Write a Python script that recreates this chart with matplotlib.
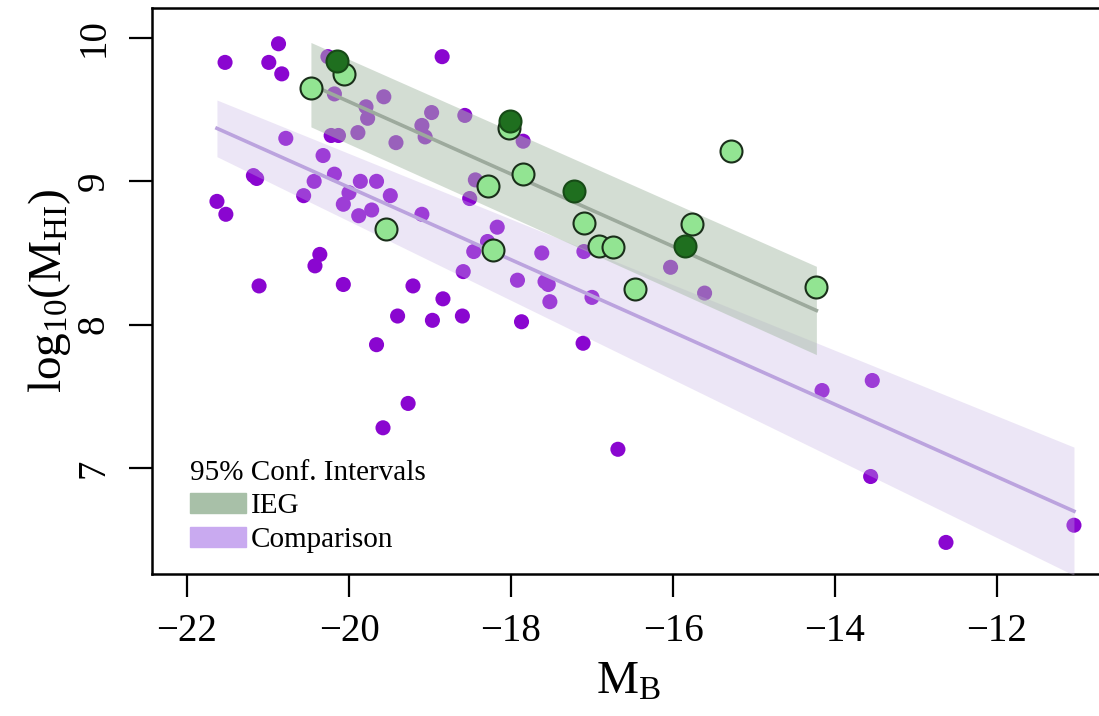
import numpy as np
import matplotlib

matplotlib.use("Agg")
import matplotlib.pyplot as plt
from matplotlib.patches import Patch

plt.rcParams["font.family"] = ["Liberation Serif", "DejaVu Serif"]
plt.rcParams["mathtext.fontset"] = "custom"
plt.rcParams["mathtext.rm"] = "Liberation Serif"
plt.rcParams["mathtext.it"] = "Liberation Serif:italic"

# comparison sample (M_B, log10 M_HI)
comp_mb = [
    -21.53, -20.87, -20.99, -20.83, -20.26, -18.85, -20.18, -19.57, -19.79, -19.77,
    -18.98, -18.57, -19.10, -19.06, -20.78, -20.22, -20.13, -19.89, -19.42, -20.32,
    -21.18, -21.14, -20.43, -20.18, -19.86, -19.66, -20.56, -20.00, -20.07, -19.49,
    -19.88, -19.72, -19.10, -21.63, -21.52, -18.44, -18.51, -18.17, -18.46, -18.29,
    -18.59, -20.36, -20.42, -21.11, -20.07, -19.21, -18.84, -19.40, -18.97, -18.60,
    -17.87, -17.52, -17.92, -17.58, -17.54, -17.00, -17.11, -19.66, -19.27, -19.58,
    -17.62, -17.10, -17.85, -16.03, -15.61, -16.68, -14.16, -13.54, -13.56, -12.63,
    -11.05,
]
comp_mhi = [
    9.83, 9.96, 9.83, 9.75, 9.87, 9.87, 9.61, 9.59, 9.52, 9.44,
    9.48, 9.46, 9.39, 9.31, 9.30, 9.32, 9.32, 9.34, 9.27, 9.18,
    9.04, 9.02, 9.00, 9.05, 9.00, 9.00, 8.90, 8.92, 8.84, 8.90,
    8.76, 8.80, 8.77, 8.86, 8.77, 9.01, 8.88, 8.68, 8.51, 8.58,
    8.37, 8.49, 8.41, 8.27, 8.28, 8.27, 8.18, 8.06, 8.03, 8.06,
    8.02, 8.16, 8.31, 8.30, 8.28, 8.19, 7.87, 7.86, 7.45, 7.28,
    8.50, 8.51, 9.28, 8.40, 8.22, 7.13, 7.54, 7.61, 6.94, 6.48,
    6.60,
]

# IEG sample
ieg_mb = [
    -20.15, -20.06, -20.47, -18.29, -19.54, -18.22, -18.01, -18.02, -17.85,
    -17.22, -17.10, -16.91, -16.74, -15.77, -15.85, -16.47, -15.28, -14.23,
]
ieg_mhi = [
    9.84, 9.75, 9.65, 8.97, 8.67, 8.52, 9.42, 9.37, 9.05,
    8.93, 8.71, 8.55, 8.54, 8.70, 8.55, 8.25, 9.21, 8.26,
]
ieg_dark = [1, 0, 0, 0, 0, 0, 1, 0, 0, 1, 0, 0, 0, 0, 1, 0, 0, 0]


def t95(df):
    z = 1.959964
    return z + (z**3 + z) / (4 * df) + (5 * z**5 + 16 * z**3 + 3 * z) / (96 * df**2)


def common_slope_fit(groups):
    # y = b*x + a_g  (shared slope, one intercept per group)
    xs = np.concatenate([np.asarray(x) for x, _ in groups])
    ys = np.concatenate([np.asarray(y) for _, y in groups])
    cols = [xs]
    for k in range(len(groups)):
        ind = np.concatenate([np.full(len(gx), 1.0 if j == k else 0.0) for j, (gx, _) in enumerate(groups)])
        cols.append(ind)
    X = np.column_stack(cols)
    beta, *_ = np.linalg.lstsq(X, ys, rcond=None)
    df = len(ys) - X.shape[1]
    s2 = np.sum((ys - X @ beta) ** 2) / df
    cov = s2 * np.linalg.inv(X.T @ X)
    out = []
    for k, (x, _) in enumerate(groups):
        ends = np.array([min(x), max(x)])
        V = np.column_stack([ends] + [np.full(2, 1.0 if j == k else 0.0) for j in range(len(groups))])
        fit = V @ beta
        se = np.sqrt(np.einsum("ij,jk,ik->i", V, cov, V))
        out.append((ends, fit, fit - t95(df) * se, fit + t95(df) * se))
    return out


(cg, cf, clo, chi), (ig, if_, ilo, ihi) = common_slope_fit(
    [(comp_mb, comp_mhi), (ieg_mb, ieg_mhi)])

fig = plt.figure(figsize=(10.99, 7.16), dpi=100)
ax = fig.add_axes([0.1383, 0.199, 0.867, 0.7905])

ax.scatter(comp_mb, comp_mhi, s=118, color="#8a06d0", edgecolors="none", zorder=2)

ax.fill_between(cg, clo, chi, color="#c6b2e4", alpha=0.32, lw=0, zorder=3)
ax.plot(cg, cf, color="#bba3de", lw=2.6, zorder=3)

ax.fill_between(ig, ilo, ihi, color="#a8bca8", alpha=0.5, lw=0, zorder=3)
ax.plot(ig, if_, color="#9daa9d", lw=2.6, zorder=3)

dark = np.array(ieg_dark, dtype=bool)
mb = np.array(ieg_mb)
mhi = np.array(ieg_mhi)
ax.scatter(mb[~dark], mhi[~dark], s=250, color="#92e492", edgecolors="#1a2e1a",
           linewidths=1.5, zorder=4)
ax.scatter(mb[dark], mhi[dark], s=250, color="#1f6f1f", edgecolors="#174a17",
           linewidths=1.5, zorder=5)

ax.set_xlim(-22.432, -10.669)
ax.set_ylim(6.263, 10.213)
ax.set_xticks([-22, -20, -18, -16, -14, -12])
ax.set_yticks([7, 8, 9, 10])
ax.tick_params(direction="out", length=16.5, width=1.6, labelsize=28, pad=12)
for lab in ax.get_yticklabels():
    lab.set_rotation(90)
    lab.set_va("center")
for side in ["left", "bottom", "top"]:
    ax.spines[side].set_linewidth(1.8)
ax.spines["right"].set_visible(False)

ax.set_xlabel(r"M$_\mathrm{B}$", fontsize=34, labelpad=8)
ax.set_ylabel(r"log$_{10}$(M$_\mathrm{HI}$)", fontsize=34, labelpad=2)

handles = [Patch(color="#a8c0a8", label="IEG"), Patch(color="#c9aaf0", label="Comparison")]
leg = ax.legend(handles=handles, title="95% Conf. Intervals", loc="lower left",
                bbox_to_anchor=(0.018, 0.0),
                frameon=False, fontsize=21, title_fontsize=21, alignment="left",
                handlelength=1.95, handleheight=0.7, handletextpad=0.15,
                labelspacing=0.25, borderaxespad=0.4, borderpad=0.3)

fig.savefig("out.png", dpi=100)
